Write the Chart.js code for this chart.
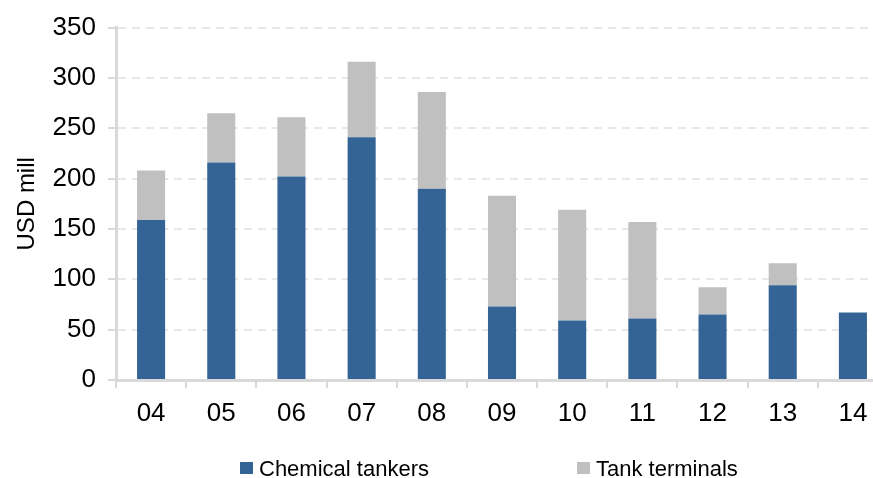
<!DOCTYPE html>
<html>
<head>
<meta charset="utf-8">
<script src="https://cdn.jsdelivr.net/npm/chart.js@4.4.1/dist/chart.umd.min.js"></script>
<style>
  html, body { margin: 0; padding: 0; background: #ffffff; overflow: hidden; width: 873px; height: 478px; }
  #wrap { position: relative; width: 900px; height: 478px; }
</style>
</head>
<body>
<div id="wrap"><canvas id="c" width="900" height="478"></canvas></div>
<script>
// Investment by segment, USD mill
const years = ['04', '05', '06', '07', '08', '09', '10', '11', '12', '13', '14'];
const chemicalTankers = [159, 216, 202, 241, 190, 73, 59, 61, 65, 94, 67];
const tankTerminals = [49, 49, 59, 75, 96, 110, 110, 96, 27, 22, 0];
const yTicks = [0, 50, 100, 150, 200, 250, 300, 350];

const FONT = "'Liberation Sans', Arial, sans-serif";
const BLUE = '#346496';
const GREY = '#C0C0C0';
const AXIS = '#D9D9D9';

// Legend drawn on the canvas, below the axis labels
const bottomLegend = {
  id: 'bottomLegend',
  afterDraw(chart) {
    const ctx = chart.ctx;
    const items = [
      { x: 240, ds: chart.data.datasets[0] },
      { x: 577, ds: chart.data.datasets[1] }
    ];
    ctx.save();
    ctx.font = '22px ' + FONT;
    ctx.textBaseline = 'alphabetic';
    ctx.textAlign = 'left';
    for (const it of items) {
      ctx.fillStyle = it.ds.backgroundColor;
      ctx.fillRect(it.x, 462, 13, 12);
      ctx.fillStyle = '#000000';
      ctx.fillText(it.ds.label, it.x + 19, 476);
    }
    ctx.restore();
  }
};

new Chart(document.getElementById('c'), {
  type: 'bar',
  data: {
    labels: years,
    datasets: [
      {
        label: 'Chemical tankers',
        data: chemicalTankers,
        backgroundColor: BLUE,
        borderWidth: 0,
        barPercentage: 0.5,
        categoryPercentage: 0.8
      },
      {
        label: 'Tank terminals',
        data: tankTerminals,
        backgroundColor: GREY,
        borderWidth: 0,
        barPercentage: 0.5,
        categoryPercentage: 0.8
      }
    ]
  },
  options: {
    responsive: false,
    animation: false,
    devicePixelRatio: 1,
    layout: { padding: { top: 23, right: 12, left: 0, bottom: 0 } },
    plugins: {
      legend: { display: false },
      tooltip: { enabled: false }
    },
    scales: {
      x: {
        stacked: true,
        offset: true,
        grid: {
          offset: true,
          drawOnChartArea: false,
          color: AXIS,
          tickLength: 8,
          lineWidth: 2
        },
        border: { color: AXIS, width: 3 },
        ticks: {
          color: '#000000',
          font: { family: FONT, size: 26 },
          padding: 10,
          maxRotation: 0
        },
        afterFit(scale) { scale.height = 98; }
      },
      y: {
        stacked: true,
        min: 0,
        max: 350,
        afterBuildTicks(scale) { scale.ticks = yTicks.map(v => ({ value: v })); },
        grid: {
          color: '#E8E8E8',
          lineWidth: 2,
          tickLength: 8,
          tickColor: AXIS,
          tickBorderDash: [],
          drawTicks: true
        },
        border: { color: AXIS, width: 3, dash: [8, 6], display: true },
        ticks: {
          color: '#000000',
          font: { family: FONT, size: 26 },
          padding: 12
        },
        title: {
          display: true,
          text: 'USD mill',
          color: '#000000',
          font: { family: FONT, size: 24 },
          padding: { top: 13, bottom: 0 }
        },
        afterFit(scale) { scale.width = 116; }
      }
    }
  },
  plugins: [bottomLegend]
});
</script>
</body>
</html>
